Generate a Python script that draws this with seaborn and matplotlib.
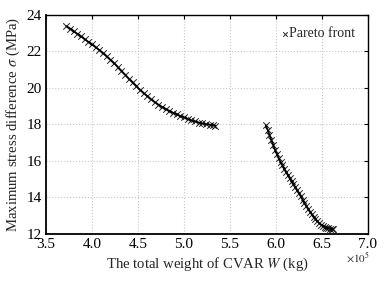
import matplotlib
matplotlib.use("Agg")
import matplotlib.pyplot as plt
import seaborn as sns
import pandas as pd

# Segment 1 (weight in units of 1e5 kg, stress in MPa)
w1 = [3.72, 3.76, 3.80, 3.84, 3.88, 3.92, 3.96, 4.00, 4.04, 4.08, 4.12, 4.16, 4.20, 4.24,
      4.28, 4.32, 4.36, 4.40, 4.44, 4.48, 4.52, 4.56, 4.60, 4.64, 4.68, 4.72, 4.76, 4.80,
      4.84, 4.88, 4.92, 4.96, 5.00, 5.04, 5.08, 5.12, 5.16, 5.20, 5.24, 5.28, 5.32, 5.34]
s1 = [23.38, 23.25, 23.10, 22.96, 22.82, 22.67, 22.52, 22.38, 22.22, 22.07, 21.90, 21.72,
      21.54, 21.36, 21.14, 20.93, 20.72, 20.50, 20.30, 20.10, 19.90, 19.72, 19.55, 19.38,
      19.23, 19.09, 18.96, 18.84, 18.74, 18.64, 18.55, 18.46, 18.38, 18.30, 18.22, 18.16,
      18.10, 18.05, 18.01, 17.98, 17.95, 17.94]
# Segment 2
w2 = [5.89, 5.91, 5.93, 5.95, 5.97, 5.99, 6.01, 6.03, 6.05, 6.07, 6.09, 6.11, 6.13, 6.15,
      6.17, 6.19, 6.21, 6.23, 6.25, 6.27, 6.29, 6.31, 6.33, 6.35, 6.37, 6.39, 6.41, 6.43,
      6.45, 6.47, 6.49, 6.51, 6.53, 6.55, 6.57, 6.59, 6.61, 6.62]
s2 = [17.95, 17.70, 17.42, 17.15, 16.88, 16.62, 16.38, 16.14, 15.94, 15.76, 15.58, 15.40,
      15.22, 15.04, 14.88, 14.72, 14.55, 14.38, 14.22, 14.06, 13.88, 13.71, 13.54, 13.38,
      13.22, 13.07, 12.93, 12.80, 12.69, 12.59, 12.51, 12.44, 12.39, 12.35, 12.31, 12.28,
      12.26, 12.25]

xticks = [3.5, 4.0, 4.5, 5.0, 5.5, 6.0, 6.5, 7.0]
yticks = [12, 14, 16, 18, 20, 22, 24]

sns.set_theme(style="white")
plt.rcParams['font.family'] = ['Liberation Serif', 'DejaVu Serif']
plt.rcParams['mathtext.fontset'] = 'stix'

df = pd.DataFrame({
    "W": [v * 1e5 for v in w1 + w2],
    "S": s1 + s2,
})

fig = plt.figure(figsize=(3.84, 2.86), dpi=100)
ax = fig.add_axes([0.12, 0.182, 0.838, 0.766])

sns.scatterplot(data=df, x="W", y="S", marker="x", color="black", s=22,
                linewidth=0.7, ax=ax, label="Pareto front", zorder=3, alpha=0.85)
ax.plot([v * 1e5 for v in w1], s1, color="black", lw=1.3, zorder=2)
ax.plot([v * 1e5 for v in w2], s2, color="black", lw=1.3, zorder=2)

ax.set_xlim(3.5e5, 7.0e5)
ax.set_ylim(12, 24)
ax.set_xticks([t * 1e5 for t in xticks])
ax.set_xticklabels([f"{t:.1f}" for t in xticks])
ax.set_yticks(yticks)
ax.set_yticklabels([str(t) for t in yticks])
ax.text(0.97, -0.108, r"$\times10^5$", transform=ax.transAxes, ha="center", va="center",
        fontsize=8)

ax.grid(True, color="#c8c8c8", linestyle=":", linewidth=0.8)
ax.tick_params(direction="in", length=3, width=0.8, labelsize=11, colors="black",
               top=True, right=True)
ax.tick_params(axis="x", pad=3)
ax.tick_params(axis="y", pad=3)
for name, sp in ax.spines.items():
    sp.set_color("black")
    sp.set_linewidth(1.3 if name in ("left", "bottom") else 1.0)

ax.set_xlabel("The total weight of CVAR $W$ (kg)", fontsize=10.6, labelpad=3)
ax.set_ylabel("Maximum stress difference $\\sigma$ (MPa)", fontsize=10.6, labelpad=3)

leg = ax.legend(loc="upper right", frameon=False, fontsize=10, handlelength=0.5,
                handletextpad=0.1, borderaxespad=0.5, markerscale=0.7)

fig.savefig("out.png", dpi=100)
